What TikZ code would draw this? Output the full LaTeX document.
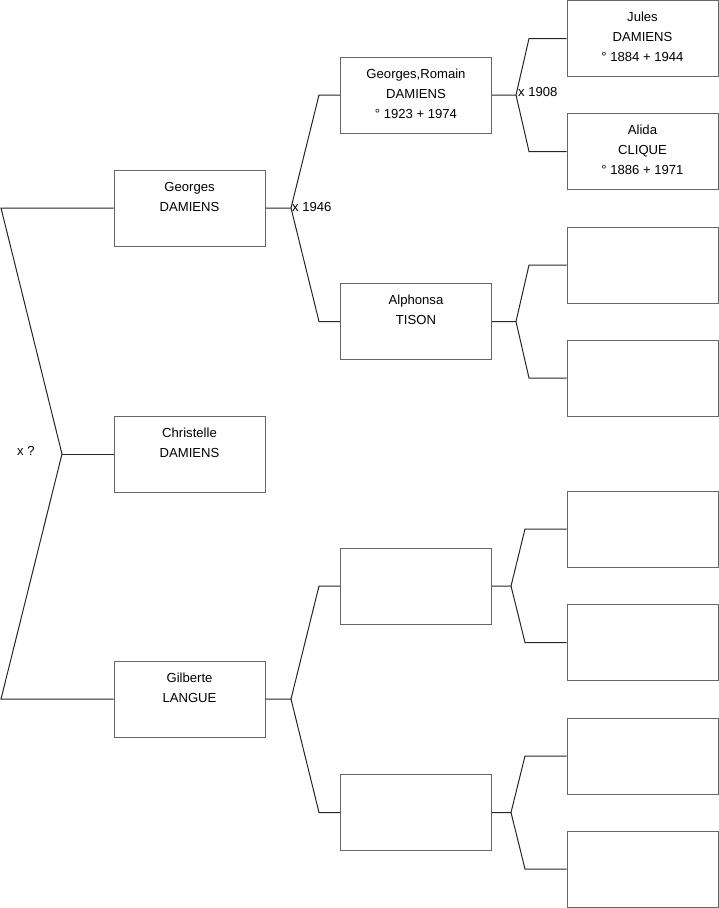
\documentclass[tikz,border=0pt]{standalone}
\usepackage{fontspec}
\setmainfont{Liberation Sans}
\begin{document}
\begin{tikzpicture}[x=1pt,y=-1pt,
  pbox/.style={draw=black!60,line width=1pt,minimum width=151pt,minimum height=76pt,inner sep=0pt,fill=white},
  ptext/.style={anchor=north,align=center,inner sep=0pt,font=\fontsize{13.1}{20}\selectfont},
  conn/.style={draw=black!85,line width=1pt},
  marrlabel/.style={font=\fontsize{13.1}{20}\selectfont,inner sep=1pt}]
\useasboundingbox (0,0) rectangle (719,908);
% column 1
\node[pbox] (geo) at (189.5,208) {};
\node[pbox] (chr) at (189.5,454) {};
\node[pbox] (gil) at (189.5,699) {};
% column 2
\node[pbox] (gro) at (416,95) {};
\node[pbox] (alp) at (416,321.5) {};
\node[pbox] (e21) at (416,586) {};
\node[pbox] (e22) at (416,812.5) {};
% column 3
\node[pbox] (jul) at (642.5,38.5) {};
\node[pbox] (ali) at (642.5,151.5) {};
\node[pbox] (e31) at (642.5,265) {};
\node[pbox] (e32) at (642.5,378) {};
\node[pbox] (e33) at (642.5,529) {};
\node[pbox] (e34) at (642.5,642.5) {};
\node[pbox] (e35) at (642.5,756) {};
\node[pbox] (e36) at (642.5,869) {};
% texts
\node[ptext] (geot) at ([yshift=-7.5pt]geo.north) {\strut Georges\\\strut DAMIENS};
\node[ptext] (chrt) at ([yshift=-7.5pt]chr.north) {\strut Christelle\\\strut DAMIENS};
\node[ptext] (gilt) at ([yshift=-7.5pt]gil.north) {\strut Gilberte\\\strut LANGUE};
\node[ptext] (grot) at ([yshift=-7.5pt]gro.north) {\strut Georges,Romain\\\strut DAMIENS\\\strut ° 1923 + 1974};
\node[ptext] (alpt) at ([yshift=-7.5pt]alp.north) {\strut Alphonsa\\\strut TISON};
\node[ptext] (jult) at ([yshift=-7.5pt]jul.north) {\strut Jules\\\strut DAMIENS\\\strut ° 1884 + 1944};
\node[ptext] (alit) at ([yshift=-7.5pt]ali.north) {\strut Alida\\\strut CLIQUE\\\strut ° 1886 + 1971};
% fork points
\coordinate (r1) at (1,208);
\coordinate (r0) at (62,454);
\coordinate (r2) at (1,699);
\coordinate (f1) at (291,208);
\coordinate (f1a) at (319,95);
\coordinate (f1b) at (319,321.5);
\coordinate (f2) at (516,95);
\coordinate (f2a) at (529,38.5);
\coordinate (f2b) at (529,151.5);
\coordinate (f3) at (516,321.5);
\coordinate (f3a) at (529,265);
\coordinate (f3b) at (529,378);
\coordinate (f4) at (511,586);
\coordinate (f4a) at (525,529);
\coordinate (f4b) at (525,642.5);
\coordinate (f5) at (511,812.5);
\coordinate (f5a) at (525,756);
\coordinate (f5b) at (525,869);
\coordinate (f6) at (291,699);
\coordinate (f6a) at (319,586);
\coordinate (f6b) at (319,812.5);
% connectors
\draw[conn] (geo.west) -- (r1) -- (r0) -- (r2) -- (gil.west);
\draw[conn] (r0) -- (chr.west);
\draw[conn] (geo.east) -- (f1) -- (f1a) -- (gro.west);
\draw[conn] (f1) -- (f1b) -- (alp.west);
\draw[conn] (gro.east) -- (f2) -- (f2a) -- (jul.west);
\draw[conn] (f2) -- (f2b) -- (ali.west);
\draw[conn] (alp.east) -- (f3) -- (f3a) -- (e31.west);
\draw[conn] (f3) -- (f3b) -- (e32.west);
\draw[conn] (e21.east) -- (f4) -- (f4a) -- (e33.west);
\draw[conn] (f4) -- (f4b) -- (e34.west);
\draw[conn] (e22.east) -- (f5) -- (f5a) -- (e35.west);
\draw[conn] (f5) -- (f5b) -- (e36.west);
\draw[conn] (gil.east) -- (f6) -- (f6a) -- (e21.west);
\draw[conn] (f6) -- (f6b) -- (e22.west);
% marriage labels
\node[marrlabel,anchor=west] (m0) at (16,451) {x ?};
\node[marrlabel,anchor=west] (m1) at (291,207) {x 1946};
\node[marrlabel,anchor=west] (m2) at (517,92) {x 1908};
\end{tikzpicture}
\end{document}
